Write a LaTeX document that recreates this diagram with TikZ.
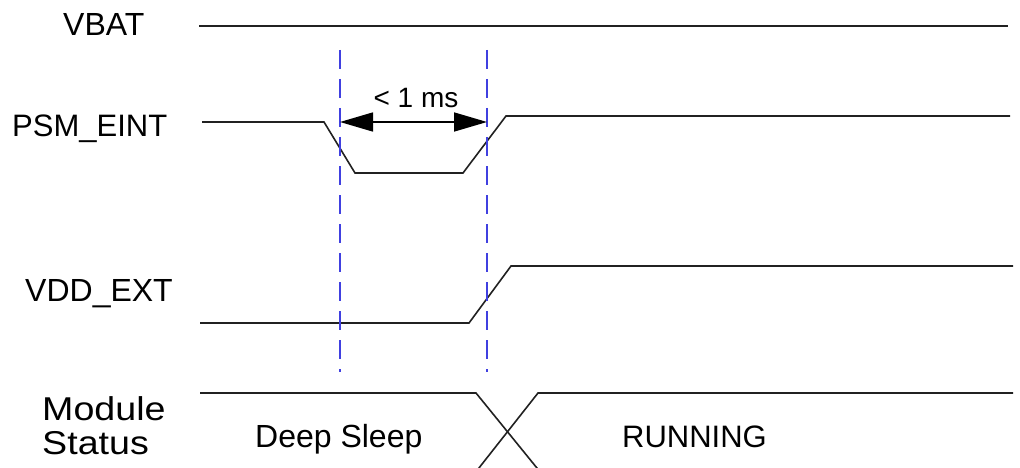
\documentclass[tikz,border=0pt]{standalone}
\usepackage{fontspec}
\setmainfont{Liberation Sans}
\usetikzlibrary{arrows.meta}
\definecolor{sig}{rgb}{0.13,0.13,0.13}
\definecolor{guide}{rgb}{0.25,0.25,0.88}
\begin{document}
\begin{tikzpicture}[x=1pt,y=-1pt,
  signal/.style={draw=sig,line width=1.6pt,line join=miter},
  guideline/.style={draw=guide,line width=1.6pt,dash pattern=on 19pt off 10pt},
  lbl/.style={inner sep=0pt,anchor=base west,font=\fontsize{32}{34}\selectfont},
  dim/.style={draw=black,line width=1.6pt,{Triangle[length=33pt,width=19pt]}-{Triangle[length=33pt,width=19pt]}}]
\useasboundingbox (0,0) rectangle (1020,468);
\clip (0,0) rectangle (1020,468);
% labels
\node[lbl] (vbat) at (63,36) {VBAT};
\node[lbl,font=\fontsize{31}{34}\selectfont] (psm) at (12,137) {PSM\_EINT};
\node[lbl] (vdd) at (25,301) {VDD\_EXT};
\node[lbl,font=\fontsize{33}{34}\selectfont] (mod) at (42,420) {\scalebox{1.14}[1]{Module}};
\node[lbl,font=\fontsize{33}{34}\selectfont] (stat) at (42,454) {\scalebox{1.14}[1]{Status}};
\node[lbl] (deep) at (255,447) {Deep Sleep};
\node[lbl,font=\fontsize{31}{34}\selectfont] (run) at (622,447) {RUNNING};
\node[lbl,anchor=base,font=\fontsize{28}{30}\selectfont] (ms) at (416,108) {< 1 ms};
% VBAT
\coordinate (vb1) at (199,26);
\coordinate (vb2) at (1008,26);
\draw[signal] (vb1) -- (vb2);
% PSM_EINT
\coordinate (p0) at (202,122);
\coordinate (p1) at (324,122);
\coordinate (p2) at (355,173);
\coordinate (p3) at (463,173);
\coordinate (p4) at (506,116);
\coordinate (p5) at (1010,116);
\draw[signal] (p0) -- (p1) -- (p2) -- (p3) -- (p4) -- (p5);
% VDD_EXT
\coordinate (v0) at (200,323);
\coordinate (v1) at (469,323);
\coordinate (v2) at (511,266);
\coordinate (v3) at (1013,266);
\draw[signal] (v0) -- (v1) -- (v2) -- (v3);
% Module status
\coordinate (m0) at (200,393);
\coordinate (m1) at (476,393);
\coordinate (m2) at (541,473);
\coordinate (n0) at (475,473);
\coordinate (n1) at (538,393);
\coordinate (n2) at (1013,393);
\draw[signal] (m0) -- (m1) -- (m2);
\draw[signal] (n0) -- (n1) -- (n2);
% guides
\coordinate (g1t) at (340,50);
\coordinate (g1b) at (340,372);
\coordinate (g2t) at (487,50);
\coordinate (g2b) at (487,372);
\draw[guideline] (g1t) -- (g1b);
\draw[guideline] (g2t) -- (g2b);
% dimension arrow
\coordinate (a1) at (340,122);
\coordinate (a2) at (487,122);
\draw[dim] (a1) -- (a2);
\end{tikzpicture}
\end{document}
